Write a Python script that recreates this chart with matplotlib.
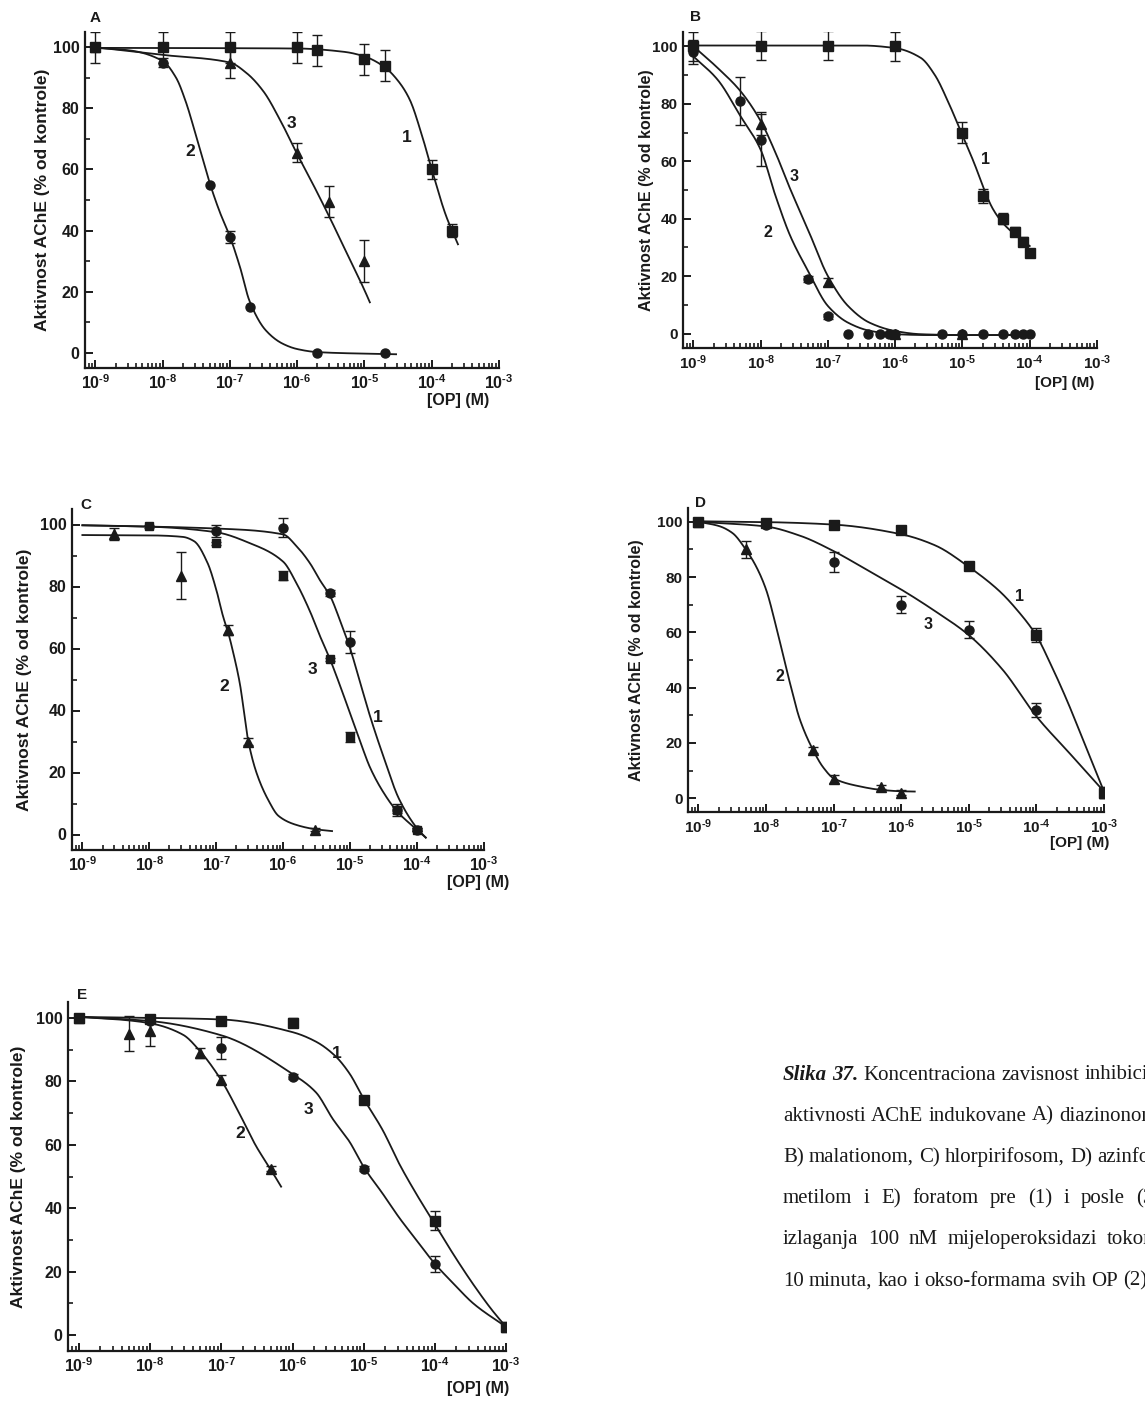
import numpy as np
import matplotlib
matplotlib.use('Agg')
import matplotlib.pyplot as plt
from matplotlib.ticker import FixedLocator, NullFormatter, FuncFormatter

plt.rcParams['font.family'] = ['Liberation Sans', 'DejaVu Sans']
plt.rcParams['font.weight'] = 'bold'
plt.rcParams['mathtext.fontset'] = 'custom'
plt.rcParams['mathtext.rm'] = 'Liberation Sans:bold'
plt.rcParams['mathtext.bf'] = 'Liberation Sans:bold'
plt.rcParams['mathtext.it'] = 'Liberation Sans:bold:italic'
plt.rcParams['mathtext.default'] = 'rm'

# ---------------- data ----------------
XTICKS = [1e-9, 1e-8, 1e-7, 1e-6, 1e-5, 1e-4, 1e-3]
YTICKS = [0, 20, 40, 60, 80, 100]
YLABEL = 'Aktivnost AChE (% od kontrole)'
XLABEL = '[OP] (M)'

# Panel A (diazinon)
A_x1 = [1e-9, 1e-8, 1e-7, 1e-6, 2e-6, 1e-5, 2e-5, 1e-4, 2e-4]
A_y1 = [100, 100, 100, 100, 99, 96, 94, 60, 40]
A_e1 = [5, 5, 5, 5, 5, 5, 5, 3, 2]
A_x2 = [1e-9, 1e-8, 5e-8, 1e-7, 2e-7, 2e-6, 2e-5]
A_y2 = [100, 95, 55, 38, 15, 0, 0]
A_e2 = [0, 1.5, 0, 2, 0, 0, 0]
A_x3 = [1e-9, 1e-7, 1e-6, 3e-6, 1e-5]
A_y3 = [100, 95, 65.5, 49.5, 30]
A_e3 = [0, 5, 3, 5, 7]
A_c1_lx = [-9, -6, -5.3, -5, -4.7, -4.5, -4.33, -4.13, -4, -3.79, -3.61]
A_c1_y = [99.8, 99.6, 98.5, 97, 93.5, 89, 83, 70, 60, 45, 35.5]
A_c2_lx = [-9, -8.5, -8, -7.8, -7.66, -7.51, -7.4, -7.3, -7.15, -7, -6.85, -6.71, -6.47, -6.22, -6, -5.7, -5, -4.53]
A_c2_y = [99.8, 99, 95.5, 90, 82.4, 71.5, 63, 55.5, 46, 38, 28, 17, 7.4, 3, 1.2, 0.2, -0.3, -0.5]
A_c3_lx = [-9, -8, -7, -6.75, -6.5, -6.25, -6, -5.75, -5.5, -5.25, -5, -4.92]
A_c3_y = [100, 97.5, 95, 91.5, 85.5, 76, 65, 54.5, 43.5, 32, 20.5, 16.5]
A_lab = [('1', -4.37, 70.4), ('2', -7.59, 66), ('3', -6.09, 75)]

# Panel B (malation)
B_x1 = [1e-9, 1e-8, 1e-7, 1e-6, 1e-5, 2e-5, 4e-5, 6e-5, 8e-5, 1e-4]
B_y1 = [100, 100.3, 100.3, 100, 70, 48, 40, 35.5, 32, 28]
B_e1 = [5, 5, 5, 5, 3.5, 2.5, 2, 1.5, 1.5, 1]
B_x2 = [1e-9, 5e-9, 1e-8, 5e-8, 1e-7, 2e-7, 4e-7, 6e-7, 8e-7, 1e-6, 5e-6, 1e-5, 2e-5, 4e-5, 6e-5, 8e-5, 1e-4]
B_y2 = [98, 81, 67.5, 19, 6, 0, 0, 0, 0, 0, 0, 0, 0, 0, 0, 0, 0]
B_e2 = [4, 8.5, 9, 1, 1, 0, 0, 0, 0, 0, 0, 0, 0, 0, 0, 0, 0]
B_x3 = [1e-9, 1e-8, 1e-7, 1e-6, 1e-5]
B_y3 = [100.3, 73, 18, 0, 0]
B_e3 = [2, 4, 1.5, 0, 0]
B_c1_lx = [-9, -6.5, -6, -5.62, -5.41, -5.2, -5, -4.82, -4.7, -4.55, -4.4, -4.22, -4.1, -4]
B_c1_y = [100.3, 100.3, 99.4, 96, 90, 80, 69, 59, 51.5, 43.5, 38.5, 34.5, 32.3, 30.5]
B_c2_lx = [-9, -8.64, -8.3, -8, -7.78, -7.56, -7.3, -7, -6.7, -6.38, -6, -5.5, -4]
B_c2_y = [96.5, 88.4, 75.7, 64, 48, 34, 22, 9.6, 3.8, 1, -0.2, -0.5, -0.5]
B_c3_lx = [-9, -8.64, -8.3, -8, -7.78, -7.56, -7.3, -7, -6.7, -6.38, -6, -5.62, -5, -4]
B_c3_y = [100, 92.5, 84.4, 74, 63, 50.3, 36.4, 20, 9.6, 3.8, 0.9, -0.2, -0.5, -0.5]
B_lab = [('1', -4.665, 60.6), ('2', -7.885, 35.1), ('3', -7.50, 54.6)]

# Panel C (hlorpirifos)
C_x1 = [1e-7, 1e-6, 5e-6, 1e-5, 5e-5, 1e-4]
C_y1 = [98, 99, 78, 62, 8, 1.5]
C_e1 = [2, 3, 1, 3.5, 2, 0.5]
C_x2 = [3e-9, 3e-8, 1.5e-7, 3e-7, 3e-6]
C_y2 = [97, 83.5, 66, 30, 1.5]
C_e2 = [2, 7.5, 1.5, 1, 0.5]
C_x3 = [1e-8, 1e-7, 1e-6, 5e-6, 1e-5, 5e-5, 1e-4]
C_y3 = [99.5, 94, 83.5, 56.5, 31.5, 8, 1.5]
C_e3 = [0.5, 0.5, 1.5, 0.5, 1.5, 1, 0.5]
C_c1_lx = [-9, -7, -6, -5.8, -5.6, -5.45, -5.3, -5.15, -5, -4.85, -4.7, -4.5, -4.27, -4, -3.87]
C_c1_y = [99.8, 98.7, 96.8, 93, 87.5, 82, 77, 69, 60, 49, 38, 25, 11.5, 2, -1]
C_c2_lx = [-9, -8, -7.5, -7.33, -7.13, -7, -6.9, -6.82, -6.75, -6.65, -6.52, -6.4, -6.22, -6.07, -5.82, -5.52, -5.27]
C_c2_y = [96.6, 96.5, 96, 94.6, 87.6, 79, 70.5, 65, 59, 49, 30, 20, 11, 6, 3.2, 1.7, 1.1]
C_c3_lx = [-9, -8, -7, -6.5, -6, -5.8, -5.6, -5.45, -5.3, -5.15, -5, -4.85, -4.7, -4.5, -4.3, -4, -3.87]
C_c3_y = [99.7, 99.3, 97.5, 94, 88, 81, 72, 64, 56.5, 48, 39, 30, 21.5, 13.5, 7.5, 1.5, -1]
C_lab = [('1', -4.58, 37.6), ('2', -6.88, 47.8), ('3', -5.56, 53.2)]

# Panel D (azinfos-metil)
D_x1 = [1e-9, 1e-8, 1e-7, 1e-6, 1e-5, 1e-4, 1e-3]
D_y1 = [100, 99.5, 99, 97, 84, 59, 2]
D_e1 = [0.5, 0.5, 0.5, 1.5, 1, 2.5, 2]
D_x2 = [1e-9, 5e-9, 5e-8, 1e-7, 5e-7, 1e-6]
D_y2 = [100, 90, 17.5, 7, 4, 2]
D_e2 = [0.5, 3, 1, 1.5, 0.8, 1]
D_x3 = [1e-9, 1e-8, 1e-7, 1e-6, 1e-5, 1e-4, 1e-3]
D_y3 = [100, 99, 85.5, 70, 61, 32, 2]
D_e3 = [0.5, 0.5, 3.5, 3, 3, 2.5, 2]
D_c1_lx = [-9, -8, -7, -6, -5.5, -5, -4.55, -4.3, -4, -3.78, -3.55, -3.3, -3]
D_c1_y = [100.2, 99.9, 99, 95.5, 91.5, 83.7, 75, 68.5, 58.8, 48, 35.5, 20.5, 2.4]
D_c2_lx = [-9, -8.7, -8.5, -8.3, -8.15, -8, -7.85, -7.75, -7.65, -7.5, -7.3, -7.15, -7, -6.6, -6.3, -6, -5.8]
D_c2_y = [100, 98.5, 96, 90, 84, 75.5, 62, 52, 42, 28.5, 17.2, 11, 7.2, 4.2, 3, 2.5, 2.4]
D_c3_lx = [-9, -8, -7.5, -7, -6.5, -6, -5.5, -5, -4.5, -4, -3.5, -3]
D_c3_y = [100, 98.3, 95, 89.4, 82.5, 75.5, 67.7, 59, 46.5, 29.6, 16, 2.4]
D_lab = [('1', -4.25, 72.8), ('2', -7.80, 44), ('3', -5.60, 62.8)]

# Panel E (forat)
E_x1 = [1e-9, 1e-8, 1e-7, 1e-6, 1e-5, 1e-4, 1e-3]
E_y1 = [100, 99.5, 99, 98.5, 74, 36, 2.5]
E_e1 = [0.5, 0.5, 0.5, 1.5, 1, 3, 1.5]
E_x2 = [1e-9, 5e-9, 1e-8, 5e-8, 1e-7, 5e-7]
E_y2 = [100, 95, 96, 89, 80.5, 52.5]
E_e2 = [0.5, 5.5, 5, 1.5, 1.5, 0.7]
E_x3 = [1e-9, 1e-8, 1e-7, 1e-6, 1e-5, 1e-4, 1e-3]
E_y3 = [100, 99, 90.5, 81.5, 52.5, 22.5, 2.5]
E_e3 = [0.5, 0.5, 3.5, 0.8, 0.8, 2.5, 1]
E_c1_lx = [-9, -8, -7, -6, -5.67, -5.4, -5.2, -5, -4.73, -4.5, -4.26, -4, -3.74, -3.46, -3.2, -3]
E_c1_y = [100.3, 100, 99.5, 95.5, 92.5, 88, 82.5, 74.5, 64.5, 54, 44.5, 35, 25.5, 16, 8, 2.6]
E_c2_lx = [-9, -8.5, -8, -7.54, -7.3, -7, -6.75, -6.51, -6.3, -6.16]
E_c2_y = [100.3, 99.6, 98.3, 94.7, 89.5, 80.3, 70, 59.5, 52, 46.8]
E_c3_lx = [-9, -8, -7, -6, -5.67, -5.43, -5.2, -5, -4.73, -4.5, -4.26, -4, -3.74, -3.46, -3]
E_c3_y = [100.3, 99, 94.5, 82.3, 76.5, 68, 61, 53, 44.5, 37, 30, 22.5, 16.3, 10, 2.6]
E_lab = [('1', -5.38, 88.7), ('2', -6.74, 63.7), ('3', -5.78, 71)]

CAPTION_HEAD = ['Slika', '37.']
CAPTION_LINES = [
    'Koncentraciona zavisnost inhibicije',
    'aktivnosti AChE indukovane A) diazinonom,',
    'B) malationom, C) hlorpirifosom, D) azinfos-',
    'metilom i E) foratom pre (1) i posle (3)',
    'izlaganja 100 nM mijeloperoksidazi tokom',
    '10 minuta, kao i okso-formama svih OP (2).',
]

# ---------------- drawing ----------------
W, H = 1145, 1404
INK = '#1a1a1a'
fig = plt.figure(figsize=(W / 100, H / 100), dpi=100)


def pchip(xk, yk, xs):
    xk = np.asarray(xk, float)
    yk = np.asarray(yk, float)
    h = np.diff(xk)
    d = np.diff(yk) / h
    n = len(xk)
    m = np.zeros(n)
    for i in range(1, n - 1):
        if d[i - 1] * d[i] > 0:
            w1 = 2 * h[i] + h[i - 1]
            w2 = h[i] + 2 * h[i - 1]
            m[i] = (w1 + w2) / (w1 / d[i - 1] + w2 / d[i])
    m[0] = d[0]
    m[-1] = d[-1]
    idx = np.clip(np.searchsorted(xk, xs) - 1, 0, n - 2)
    t = (xs - xk[idx]) / h[idx]
    h00 = 2 * t**3 - 3 * t**2 + 1
    h10 = t**3 - 2 * t**2 + t
    h01 = -2 * t**3 + 3 * t**2
    h11 = t**3 - t**2
    return h00 * yk[idx] + h10 * h[idx] * m[idx] + h01 * yk[idx + 1] + h11 * h[idx] * m[idx + 1]


def px_axes(x0, x1, y0, y1):
    return fig.add_axes([x0 / W, 1 - y1 / H, (x1 - x0) / W, (y1 - y0) / H])


minor_x = [k * 10.0**e for e in range(-10, -3) for k in range(2, 10)]


def xfmt(v, p):
    e = int(round(np.log10(v)))
    return r'$10^{\text{-}%d}$' % (-e)


def style(ax, fs):
    ax.set_xscale('log')
    ax.set_xlim(7e-10, 1e-3)
    ax.set_ylim(-5, 105)
    ax.patch.set_alpha(0)
    for s in ['top', 'right']:
        ax.spines[s].set_visible(False)
    for s in ['left', 'bottom']:
        ax.spines[s].set_linewidth(1.6)
        ax.spines[s].set_color(INK)
    ax.xaxis.set_major_locator(FixedLocator(XTICKS))
    ax.xaxis.set_minor_locator(FixedLocator(minor_x))
    ax.xaxis.set_major_formatter(FuncFormatter(xfmt))
    ax.xaxis.set_minor_formatter(NullFormatter())
    ax.set_yticks(YTICKS)
    ax.set_yticks([10, 30, 50, 70, 90], minor=True)
    ax.tick_params(which='major', direction='in', length=6, width=1.4, labelsize=fs, pad=4,
                   colors=INK)
    ax.tick_params(which='minor', direction='in', length=3.5, width=1.2, colors=INK)
    for lab in ax.get_yticklabels():
        lab.set_fontweight('bold')


def series(ax, x, y, e, marker, ms):
    x = np.asarray(x, float)
    y = np.asarray(y, float)
    e = np.asarray(e, float)
    k = e > 0
    if k.any():
        ax.errorbar(x[k], y[k], yerr=e[k], fmt='none', ecolor=INK, elinewidth=1.0,
                    capsize=3.5, capthick=1.0, zorder=2)
    ax.plot(x, y, linestyle='none', marker=marker, ms=ms, color=INK, mec=INK, zorder=3)


def curve(ax, lx, y):
    xs = np.linspace(lx[0], lx[-1], 500)
    ax.plot(10**xs, pchip(lx, y, xs), color=INK, lw=1.3, zorder=2)


def labels(ax, labs, fs):
    for t, lx, yv in labs:
        ax.text(10**lx, yv, t, fontsize=fs, fontweight='bold', color=INK, ha='center', va='center')


panels = [
    dict(box=(85, 499, 32, 368), letter='A', lpos=(90, 18), ylx=43, xl=(458, 401), fs=11.5,
         fsl=12.5,
         ser=[(A_x1, A_y1, A_e1, 's', 6.5), (A_x2, A_y2, A_e2, 'o', 6.5), (A_x3, A_y3, A_e3, '^', 7.5)],
         cur=[(A_c1_lx, A_c1_y), (A_c2_lx, A_c2_y), (A_c3_lx, A_c3_y)], lab=A_lab),
    dict(box=(683, 1097, 32, 348), letter='B', lpos=(690, 17), ylx=646, xl=(1065, 383), fs=11,
         fsl=11.5,
         ser=[(B_x1, B_y1, B_e1, 's', 6.5), (B_x2, B_y2, B_e2, 'o', 6.5), (B_x3, B_y3, B_e3, '^', 7.5)],
         cur=[(B_c1_lx, B_c1_y), (B_c2_lx, B_c2_y), (B_c3_lx, B_c3_y)], lab=B_lab),
    dict(box=(72, 484, 509, 850), letter='C', lpos=(80, 505), ylx=25, xl=(478, 883), fs=11.5,
         fsl=12.5,
         ser=[(C_x1, C_y1, C_e1, 'o', 6.5), (C_x3, C_y3, C_e3, 's', 6.0), (C_x2, C_y2, C_e2, '^', 7.5)],
         cur=[(C_c1_lx, C_c1_y), (C_c2_lx, C_c2_y), (C_c3_lx, C_c3_y)], lab=C_lab),
    dict(box=(688, 1104, 508, 812), letter='D', lpos=(695, 503), ylx=637, xl=(1080, 843), fs=11,
         fsl=11.5,
         ser=[(D_x1, D_y1, D_e1, 's', 6.5), (D_x3, D_y3, D_e3, 'o', 6.5), (D_x2, D_y2, D_e2, '^', 7.5)],
         cur=[(D_c1_lx, D_c1_y), (D_c2_lx, D_c2_y), (D_c3_lx, D_c3_y)], lab=D_lab),
    dict(box=(68, 506, 1002, 1351), letter='E', lpos=(77, 995), ylx=19, xl=(478, 1388), fs=11.5,
         fsl=12.5,
         ser=[(E_x1, E_y1, E_e1, 's', 6.5), (E_x3, E_y3, E_e3, 'o', 6.5), (E_x2, E_y2, E_e2, '^', 7.5)],
         cur=[(E_c1_lx, E_c1_y), (E_c2_lx, E_c2_y), (E_c3_lx, E_c3_y)], lab=E_lab),
]

for P in panels:
    x0, x1, y0, y1 = P['box']
    ax = px_axes(x0, x1, y0, y1)
    style(ax, P['fs'])
    for lx, yy in P['cur']:
        curve(ax, lx, yy)
    for s in P['ser']:
        series(ax, *s)
    labels(ax, P['lab'], P['fsl'])
    fig.text(P['lpos'][0] / W, 1 - P['lpos'][1] / H, P['letter'], fontsize=11, fontweight='bold',
             color=INK, ha='left', va='center')
    fig.text(P['ylx'] / W, 1 - (y0 + y1) / 2 / H, YLABEL, rotation=90, fontsize=P['fsl'],
             fontweight='bold', color=INK, ha='center', va='center')
    fig.text(P['xl'][0] / W, 1 - P['xl'][1] / H, XLABEL, fontsize=P['fs'], fontweight='bold',
             color=INK, ha='center', va='center')

# caption (justified lines, clipped by the page edge like the reference)
cap_x = 783
cap_right = 1160
cap_y0 = 1075
cap_dy = 41.2
cfs = 15
renderer = fig.canvas.get_renderer()
REG = dict(fontsize=cfs, family='Liberation Serif', fontweight='normal', color=INK)
BI = dict(fontsize=cfs, family='Liberation Serif', fontweight='bold', style='italic', color=INK)


def width_of(word, kw):
    t = fig.text(0, 0, word, **kw)
    w = t.get_window_extent(renderer).width
    t.remove()
    return w


cap_words = []
for i, line in enumerate(CAPTION_LINES):
    words = [(w, REG) for w in line.split(' ')]
    if i == 0:
        words = [(w, BI) for w in CAPTION_HEAD] + words
    cap_words.append(words)

space_w = width_of('a a', REG) - width_of('aa', REG)
for i, words in enumerate(cap_words):
    widths = [width_of(w, kw) for w, kw in words]
    yy = cap_y0 + i * cap_dy
    if i < len(cap_words) - 1:
        gap = (cap_right - cap_x - sum(widths)) / (len(words) - 1)
        gap = max(gap, space_w)
    else:
        gap = space_w
    x = cap_x
    for (w, kw), wd in zip(words, widths):
        fig.text(x / W, 1 - yy / H, w, ha='left', va='center', **kw)
        x += wd + gap

fig.savefig('out.png', dpi=100)
